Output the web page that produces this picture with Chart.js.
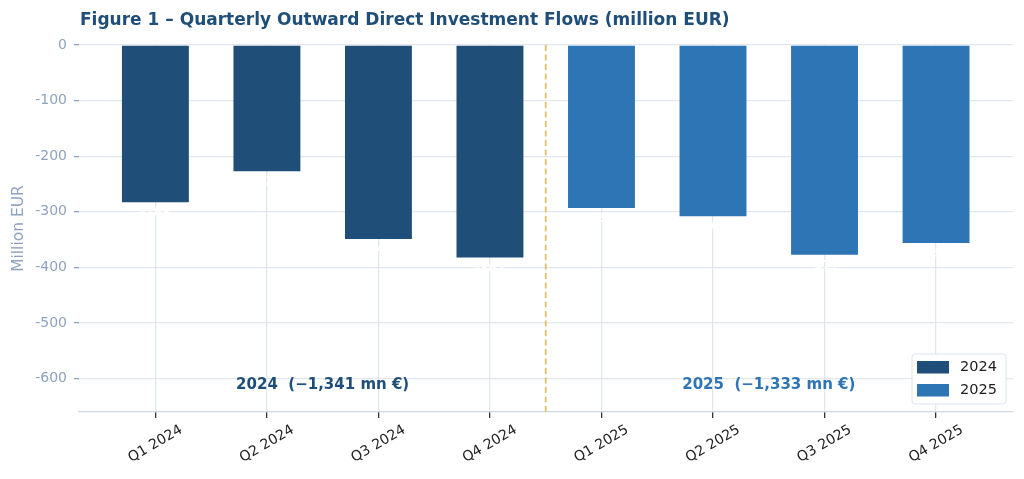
<!DOCTYPE html>
<html>
<head>
<meta charset="utf-8">
<script src="https://cdn.jsdelivr.net/npm/chart.js@4"></script>
<style>
  html, body { margin: 0; padding: 0; background: #fff; }
  #wrap { width: 1024px; height: 479px; position: relative; }
</style>
</head>
<body>
<div id="wrap"><canvas id="chart"></canvas></div>
<script>
const quarters = ['Q1 2024', 'Q2 2024', 'Q3 2024', 'Q4 2024', 'Q1 2025', 'Q2 2025', 'Q3 2025', 'Q4 2025'];
const flows2024 = [-283, -227, -349, -382];
const flows2025 = [-293, -308, -377, -356];
const yTicks = [0, -100, -200, -300, -400, -500, -600];
const yearNotes = [
    { text: '2024  (\u22121,341 mn \u20ac)', x: 1.5, color: '#1f4e79' },
    { text: '2025  (\u22121,333 mn \u20ac)', x: 5.5, color: '#2e75b6' }
];
const titleText = 'Figure 1 \u2013 Quarterly Outward Direct Investment Flows (million EUR)';

const C2024 = '#1f4e79', C2025 = '#2e75b6';
const FONT = '"DejaVu Sans", sans-serif';
const GRID = '#e2e7ee';

const points2024 = flows2024.map((v, i) => ({ x: i, y: v }));
const points2025 = flows2025.map((v, i) => ({ x: flows2024.length + i, y: v }));

// title, divider, notes, x labels and legend drawn on the canvas
const extras = {
    id: 'extras',
    afterDatasetsDraw(chart) {
        const c = chart.ctx, x = chart.scales.x, y = chart.scales.y, area = chart.chartArea;

        // white value labels under the bars (as in the source)
        c.save();
        c.fillStyle = '#ffffff';
        c.font = 'bold 12px ' + FONT;
        c.textAlign = 'center';
        c.textBaseline = 'middle';
        chart.data.datasets.forEach(ds => ds.data.forEach(p => {
            c.fillText(String(p.y), x.getPixelForValue(p.x), y.getPixelForValue(p.y) + 11);
        }));
        c.restore();

        // dashed divider between years
        const dx = x.getPixelForValue(3.5);
        c.save();
        c.strokeStyle = '#e2c06a';
        c.lineWidth = 1.8;
        c.setLineDash([6, 3.5]);
        c.beginPath();
        c.moveTo(dx, area.top);
        c.lineTo(dx, area.bottom);
        c.stroke();
        c.restore();

        // year totals
        c.save();
        c.font = 'bold 15px ' + FONT;
        c.textAlign = 'center';
        c.textBaseline = 'middle';
        yearNotes.forEach(n => {
            c.fillStyle = n.color;
            c.fillText(n.text, x.getPixelForValue(n.x), y.getPixelForValue(-611));
        });
        c.restore();
    },
    afterDraw(chart) {
        const c = chart.ctx, x = chart.scales.x;

        c.save();
        c.fillStyle = '#1f4e79';
        c.font = 'bold 17px ' + FONT;
        c.textAlign = 'left';
        c.textBaseline = 'alphabetic';
        c.fillText(titleText, 80, 25);
        c.restore();

        // rotated category labels, centred under each tick
        c.save();
        c.fillStyle = '#222222';
        c.font = '14px ' + FONT;
        c.textAlign = 'center';
        c.textBaseline = 'middle';
        quarters.forEach((q, i) => {
            c.save();
            c.translate(x.getPixelForValue(i), 444);
            c.rotate(-Math.PI / 6);
            c.fillText(q, 0, 0);
            c.restore();
        });
        c.restore();

        // legend box, lower right
        c.save();
        c.fillStyle = 'rgba(255,255,255,0.9)';
        c.strokeStyle = '#dde3ea';
        c.lineWidth = 1;
        c.beginPath();
        c.roundRect(912, 354, 94, 50, 3);
        c.fill();
        c.stroke();
        [['2024', C2024, 361], ['2025', C2025, 384]].forEach(([lab, col, top]) => {
            c.fillStyle = col;
            c.fillRect(917, top, 32, 12.5);
            c.fillStyle = '#222222';
            c.font = '14.5px ' + FONT;
            c.textAlign = 'left';
            c.textBaseline = 'middle';
            c.fillText(lab, 960, top + 6.5);
        });
        c.restore();
    }
};

new Chart(document.getElementById('chart'), {
    type: 'bar',
    data: {
        datasets: [{
            label: '2024',
            data: points2024,
            backgroundColor: C2024,
            grouped: false,
            barPercentage: 0.6,
            categoryPercentage: 1
        }, {
            label: '2025',
            data: points2025,
            backgroundColor: C2025,
            grouped: false,
            barPercentage: 0.6,
            categoryPercentage: 1
        }]
    },
    options: {
        responsive: true,
        maintainAspectRatio: false,
        animation: false,
        layout: { padding: { top: 45, right: 11, left: 0, bottom: 0 } },
        plugins: { legend: { display: false }, tooltip: { enabled: false }, title: { display: false } },
        scales: {
            x: {
                type: 'linear',
                offset: false,
                min: -0.685,
                max: 7.69,
                afterBuildTicks: s => { s.ticks = quarters.map((q, i) => ({ value: i })); },
                afterFit: s => { s.height = 67; },
                ticks: { display: false },
                grid: { offset: false, color: GRID, tickColor: '#333333', tickLength: 6, lineWidth: 1.3 },
                border: { display: true, color: '#cfd8e3', width: 1.2 }
            },
            y: {
                min: -660,
                max: 0,
                afterBuildTicks: s => { s.ticks = yTicks.map(v => ({ value: v })); },
                afterFit: s => { s.width = 79; },
                ticks: {
                    color: '#8fa3bf',
                    font: { family: FONT, size: 14 },
                    padding: 7,
                    callback: v => String(v)
                },
                grid: { color: GRID, tickColor: '#8fa3bf', tickLength: 5, lineWidth: 1.3 },
                border: { display: false },
                title: {
                    display: true,
                    text: 'Million EUR',
                    color: '#8fa3bf',
                    font: { family: FONT, size: 15.5 },
                    padding: { top: 10, bottom: 0 }
                }
            }
        }
    },
    plugins: [extras]
});
</script>
</body>
</html>
